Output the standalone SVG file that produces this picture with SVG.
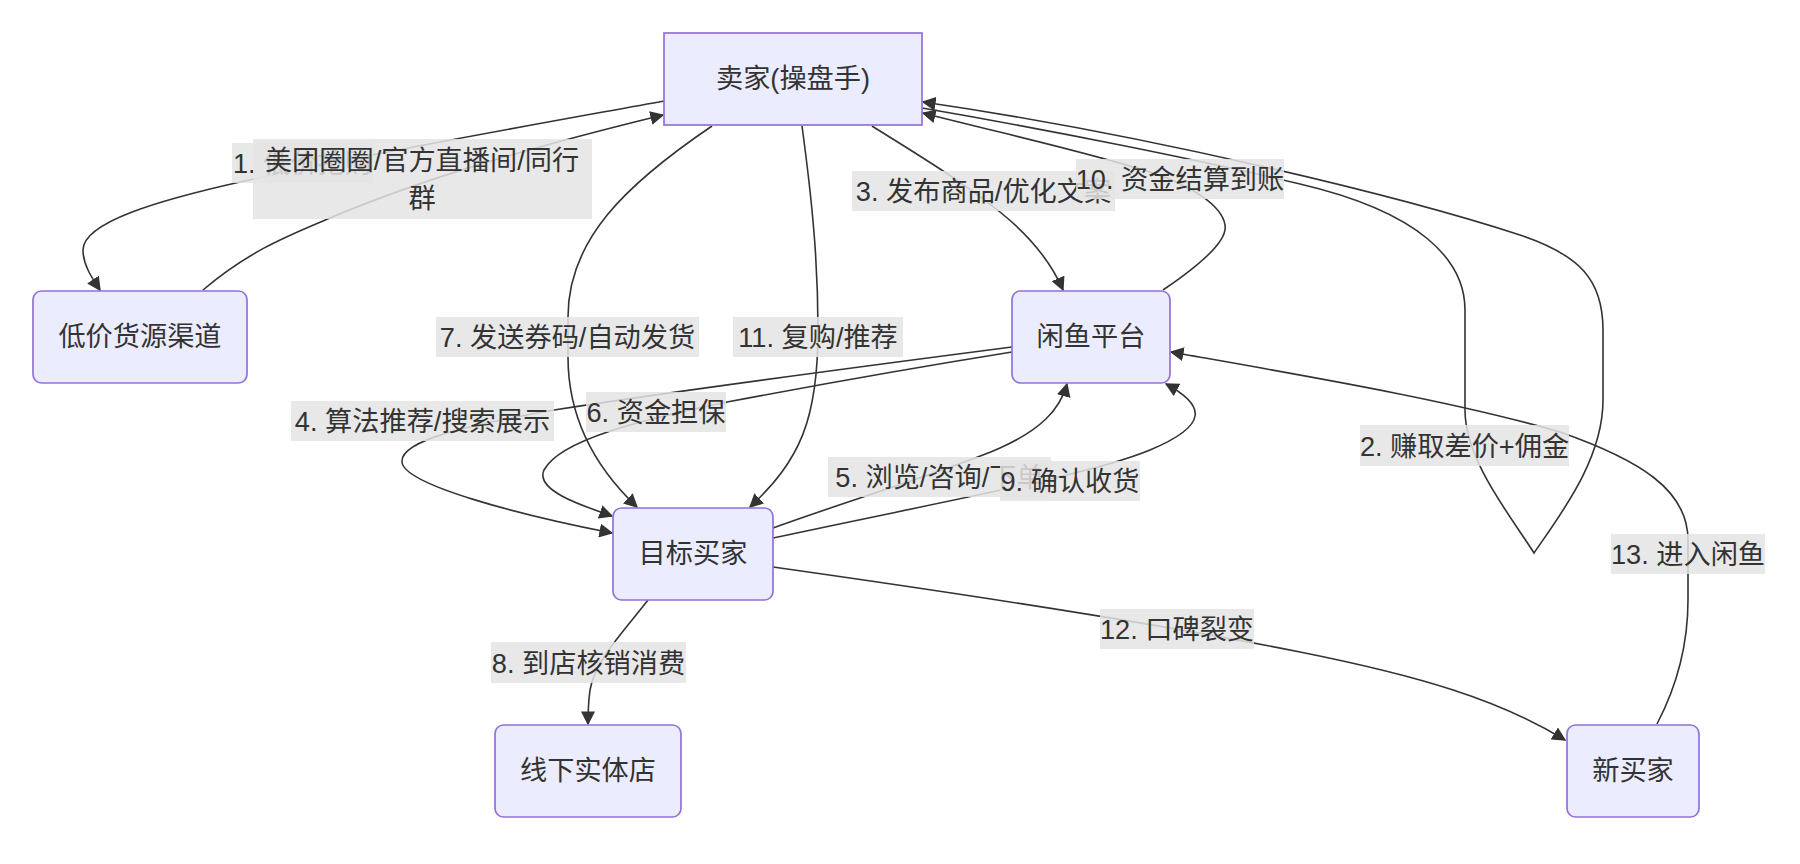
<svg xmlns="http://www.w3.org/2000/svg" width="1800" height="864" viewBox="0 0 1800 864">
<defs>
<style>
text{font-family:'Trebuchet MS','Liberation Sans','Noto Sans CJK SC',sans-serif;font-size:27.2px;fill:#333333;text-anchor:middle}
.node rect{fill:#ECECFF;stroke:#9370DB;stroke-width:1.7}
.edge{fill:none;stroke:#333333;stroke-width:1.6}
.lbl rect{fill:#e4e4e4;fill-opacity:0.85}
</style>
<marker id="arrow" viewBox="0 0 10 10" refX="9" refY="5" markerUnits="userSpaceOnUse" markerWidth="14" markerHeight="14" orient="auto">
<path d="M0,0 L10,5 L0,10 z" fill="#333333"/>
</marker>
</defs>
<rect width="1800" height="864" fill="#ffffff"/>
<g id="connectors">
<path class="edge" marker-end="url(#arrow)" d="M664,101 C560,120 360,155 240,182 C160,200 83,222 83,250 C83,265 92,278 100,290"/>
<path class="edge" marker-end="url(#arrow)" d="M203,290 C250,250 290,235 330,218 C420,180 520,150 663,115"/>
<path class="edge" marker-end="url(#arrow)" d="M922,108 C1050,130 1200,160 1300,184 C1420,212 1465,260 1465,310 L1465,410 C1465,460 1510,515 1534,553 C1560,515 1603,460 1603,400 L1603,330 C1603,280 1580,255 1520,235 C1400,196 1150,135 923,102"/>
<path class="edge" marker-end="url(#arrow)" d="M872,126 C920,156 960,180 1000,212 C1030,236 1050,260 1063,290"/>
<path class="edge" marker-end="url(#arrow)" d="M1012,347 C850,368 650,395 554,410 C470,425 400,440 402,462 C404,485 520,515 612,533"/>
<path class="edge" marker-end="url(#arrow)" d="M773,528 C850,500 950,470 1000,448 C1040,430 1060,410 1067,384"/>
<path class="edge" marker-end="url(#arrow)" d="M1012,352 C900,370 780,392 727,402 C640,420 560,440 544,470 C535,490 580,505 612,516"/>
<path class="edge" marker-end="url(#arrow)" d="M712,126 C625,185 568,240 568,317 L568,357 C568,420 598,470 637,507"/>
<path class="edge" marker-end="url(#arrow)" d="M648,600 C625,630 595,660 590,690 C588,705 588,715 588,724"/>
<path class="edge" marker-end="url(#arrow)" d="M773,538 C950,500 1090,475 1150,450 C1210,425 1205,405 1166,384"/>
<path class="edge" marker-end="url(#arrow)" d="M1163,290 C1200,265 1228,240 1225,225 C1222,205 1190,185 1150,172 C1080,150 1000,133 923,113"/>
<path class="edge" marker-end="url(#arrow)" d="M802,126 C812,200 818,260 818,330 C818,420 800,460 750,507"/>
<path class="edge" marker-end="url(#arrow)" d="M773,567 C950,592 1150,622 1300,652 C1420,676 1500,700 1565,740"/>
<path class="edge" marker-end="url(#arrow)" d="M1657,724 C1680,680 1688,640 1688,600 L1688,540 C1688,490 1640,460 1560,432 C1450,400 1300,375 1171,352"/>
</g>
<g id="edge-labels">
<g class="lbl"><rect x="232" y="143" width="141" height="40"/><text x="302.5" y="173">1. 低价抢购</text></g>
<g class="lbl"><rect x="253" y="139" width="339" height="80"/><text x="422" y="170">美团圈圈/官方直播间/同行</text><text x="422" y="208">群</text></g>
<g class="lbl"><rect x="1360" y="425" width="209" height="41"/><text x="1464.5" y="455.5">2. 赚取差价+佣金</text></g>
<g class="lbl"><rect x="852" y="171" width="263" height="40"/><text x="983.5" y="201">3. 发布商品/优化文案</text></g>
<g class="lbl"><rect x="291" y="401" width="263" height="40"/><text x="422.5" y="431">4. 算法推荐/搜索展示</text></g>
<g class="lbl"><rect x="828" y="457" width="223" height="40"/><text x="939.5" y="487">5. 浏览/咨询/下单</text></g>
<g class="lbl"><rect x="586" y="392" width="140" height="40"/><text x="656" y="422">6. 资金担保</text></g>
<g class="lbl"><rect x="436" y="317" width="263" height="40"/><text x="567.5" y="347">7. 发送券码/自动发货</text></g>
<g class="lbl"><rect x="491" y="642" width="195" height="41"/><text x="588.5" y="672.5">8. 到店核销消费</text></g>
<g class="lbl"><rect x="1000" y="461" width="140" height="40"/><text x="1070" y="491">9. 确认收货</text></g>
<g class="lbl"><rect x="1076" y="159" width="208" height="40"/><text x="1180" y="189">10. 资金结算到账</text></g>
<g class="lbl"><rect x="733" y="317" width="170" height="40"/><text x="818" y="347">11. 复购/推荐</text></g>
<g class="lbl"><rect x="1100" y="609" width="154" height="40"/><text x="1177" y="639">12. 口碑裂变</text></g>
<g class="lbl"><rect x="1611" y="534" width="154" height="40"/><text x="1688" y="564">13. 进入闲鱼</text></g>
</g>
<g id="node-seller" class="node"><rect x="664" y="33" width="258" height="92"/><text x="793" y="88">卖家(操盘手)</text></g>
<g id="node-source" class="node"><rect x="33" y="291" width="214" height="92" rx="8.5"/><text x="140" y="346">低价货源渠道</text></g>
<g id="node-xianyu" class="node"><rect x="1012" y="291" width="158" height="92" rx="8.5"/><text x="1091" y="346">闲鱼平台</text></g>
<g id="node-buyer" class="node"><rect x="613" y="508" width="160" height="92" rx="8.5"/><text x="693" y="563">目标买家</text></g>
<g id="node-store" class="node"><rect x="495" y="725" width="186" height="92" rx="8.5"/><text x="588" y="780">线下实体店</text></g>
<g id="node-newbuyer" class="node"><rect x="1567" y="725" width="132" height="92" rx="8.5"/><text x="1633" y="780">新买家</text></g>
</svg>
